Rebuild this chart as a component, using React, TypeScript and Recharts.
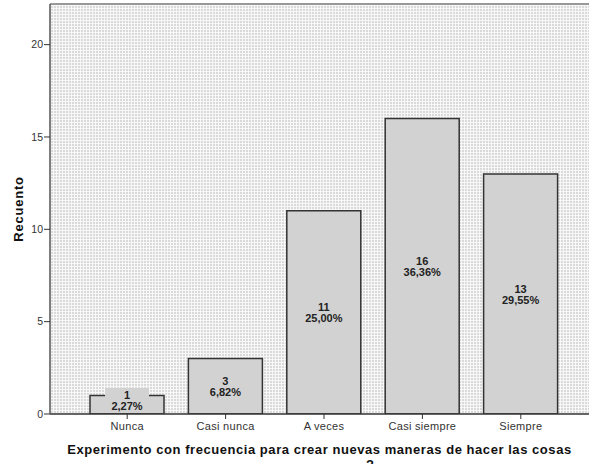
import React from 'react';
import { BarChart, Bar, XAxis, YAxis, CartesianGrid, LabelList, ReferenceLine } from 'recharts';

const categories = ['Nunca', 'Casi nunca', 'A veces', 'Casi siempre', 'Siempre'];
const counts = [1, 3, 11, 16, 13];
const percents = ['2,27%', '6,82%', '25,00%', '36,36%', '29,55%'];
const yTicks = [0, 5, 10, 15, 20];

const data = categories.map((c, i) => ({ name: c, count: counts[i], pct: percents[i] }));

const font = '"Liberation Sans", Arial, sans-serif';

function BarLabel(props: any) {
  const { x, y, width, height, index } = props;
  const bottom = y + height;
  const cx = x + width / 2;
  const cy = Math.min(y + height / 2, bottom - 14);
  return (
    <g>
      <rect x={cx - 22} y={cy - 12} width={44} height={25} fill="#d2d2d2" />
      <text x={cx} y={cy - 1} textAnchor="middle" fontSize={11} fontWeight="bold" fill="#222" fontFamily={font}>
        {counts[index]}
      </text>
      <text x={cx} y={cy + 10} textAnchor="middle" fontSize={11} fontWeight="bold" fill="#222" fontFamily={font}>
        {percents[index]}
      </text>
    </g>
  );
}

export default function App() {
  return (
    <div style={{ position: 'absolute', left: 0, top: 0, width: 589, height: 464, background: '#fff', overflow: 'hidden' }}>
      <svg width={0} height={0} style={{ position: 'absolute' }}>
        <defs>
          <pattern id="dots" width={3} height={3} patternUnits="userSpaceOnUse">
            <rect width={3} height={3} fill="#f7f7f7" />
            <rect width={2} height={2} fill="#dadada" />
          </pattern>
        </defs>
      </svg>
      <BarChart
        width={589}
        height={464}
        data={data}
        margin={{ top: 4, right: 0, left: 0, bottom: 0 }}
        barSize={74}
      >
        <CartesianGrid fill="url(#dots)" horizontal={false} vertical={false} />
        <ReferenceLine y={22.2} stroke="#999" strokeWidth={2} ifOverflow="extendDomain" />
        <XAxis
          dataKey="name"
          height={50}
          padding={{ left: 28, right: 19 }}
          axisLine={{ stroke: '#333', strokeWidth: 1.5 }}
          tickLine={{ stroke: '#333' }}
          tickSize={5}
          tickMargin={3}
          tick={{ fontSize: 11, fill: '#333', fontFamily: font, letterSpacing: 0.3 }}
          interval={0}
          label={{
            value: 'Experimento con frecuencia para crear nuevas maneras de hacer las cosas',
            position: 'insideBottom',
            offset: 10,
            style: { fontSize: 13, fontWeight: 'bold', fill: '#111', fontFamily: font, letterSpacing: 0.55 },
          }}
        />
        <YAxis
          width={50}
          domain={[0, 22.2]}
          ticks={yTicks}
          allowDataOverflow
          axisLine={{ stroke: '#555', strokeWidth: 1.5 }}
          tickLine={{ stroke: '#333' }}
          tickSize={6}
          tickMargin={1}
          tick={{ fontSize: 10.5, fill: '#333', fontFamily: font }}
          label={{
            value: 'Recuento',
            angle: -90,
            position: 'insideLeft',
            offset: 18,
            style: { fontSize: 13, fontWeight: 'bold', fill: '#111', fontFamily: font, textAnchor: 'middle', letterSpacing: 0.8 },
          }}
        />
        <Bar dataKey="count" fill="#d2d2d2" stroke="#333" strokeWidth={1.5} isAnimationActive={false}>
          <LabelList dataKey="count" content={BarLabel} />
        </Bar>
      </BarChart>
      <div style={{ position: 'absolute', left: 366, top: 458, fontFamily: font, fontWeight: 'bold', fontSize: 13, lineHeight: '13px', color: '#111' }}>
        ?
      </div>
    </div>
  );
}
